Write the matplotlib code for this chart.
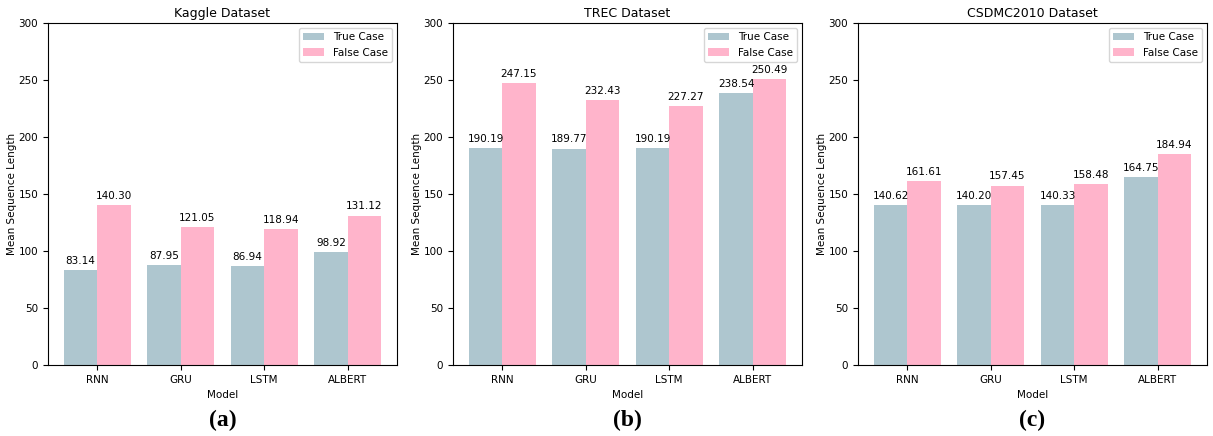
import matplotlib.pyplot as plt
import numpy as np

models = ["RNN", "GRU", "LSTM", "ALBERT"]
titles = ["Kaggle Dataset", "TREC Dataset", "CSDMC2010 Dataset"]
panel_labels = ["(a)", "(b)", "(c)"]
true_case = [
    [83.14, 87.95, 86.94, 98.92],
    [190.19, 189.77, 190.19, 238.54],
    [140.62, 140.20, 140.33, 164.75],
]
false_case = [
    [140.30, 121.05, 118.94, 131.12],
    [247.15, 232.43, 227.27, 250.49],
    [161.61, 157.45, 158.48, 184.94],
]

TRUE_COLOR = "#aec6cf"
FALSE_COLOR = "#ffb4cb"

fig = plt.figure(figsize=(12.13, 4.36), dpi=100)
lefts = [48, 453, 858]
W, H = 1213, 436
width = 0.4
x = np.arange(len(models))

for i in range(3):
    ax = fig.add_axes([lefts[i] / W, 1 - 365 / H, 349 / W, (365 - 23) / H])
    b1 = ax.bar(x - width / 2, true_case[i], width, color=TRUE_COLOR, label="True Case")
    b2 = ax.bar(x + width / 2, false_case[i], width, color=FALSE_COLOR, label="False Case")
    for bars in (b1, b2):
        for rect in bars:
            h = rect.get_height()
            ax.annotate(f"{h:.2f}", (rect.get_x() + rect.get_width() / 2, h),
                        xytext=(0, 3), textcoords="offset points",
                        ha="center", va="bottom", fontsize=7.5)
    ax.set_ylim(0, 300)
    ax.set_xticks(x)
    ax.set_xticklabels(models)
    ax.tick_params(labelsize=7.5)
    ax.set_xlabel("Model", fontsize=7.5)
    ax.set_ylabel("Mean Sequence Length", fontsize=7.5, labelpad=1)
    ax.set_title(titles[i], fontsize=9, pad=4)
    ax.legend(loc="upper right", fontsize=7.5)
    fig.text((lefts[i] + 349 / 2) / W, 1 - 420 / H, panel_labels[i],
             ha="center", va="center", fontsize=17, fontweight="bold",
             family="Liberation Serif")

fig.savefig("out.png", dpi=100)
